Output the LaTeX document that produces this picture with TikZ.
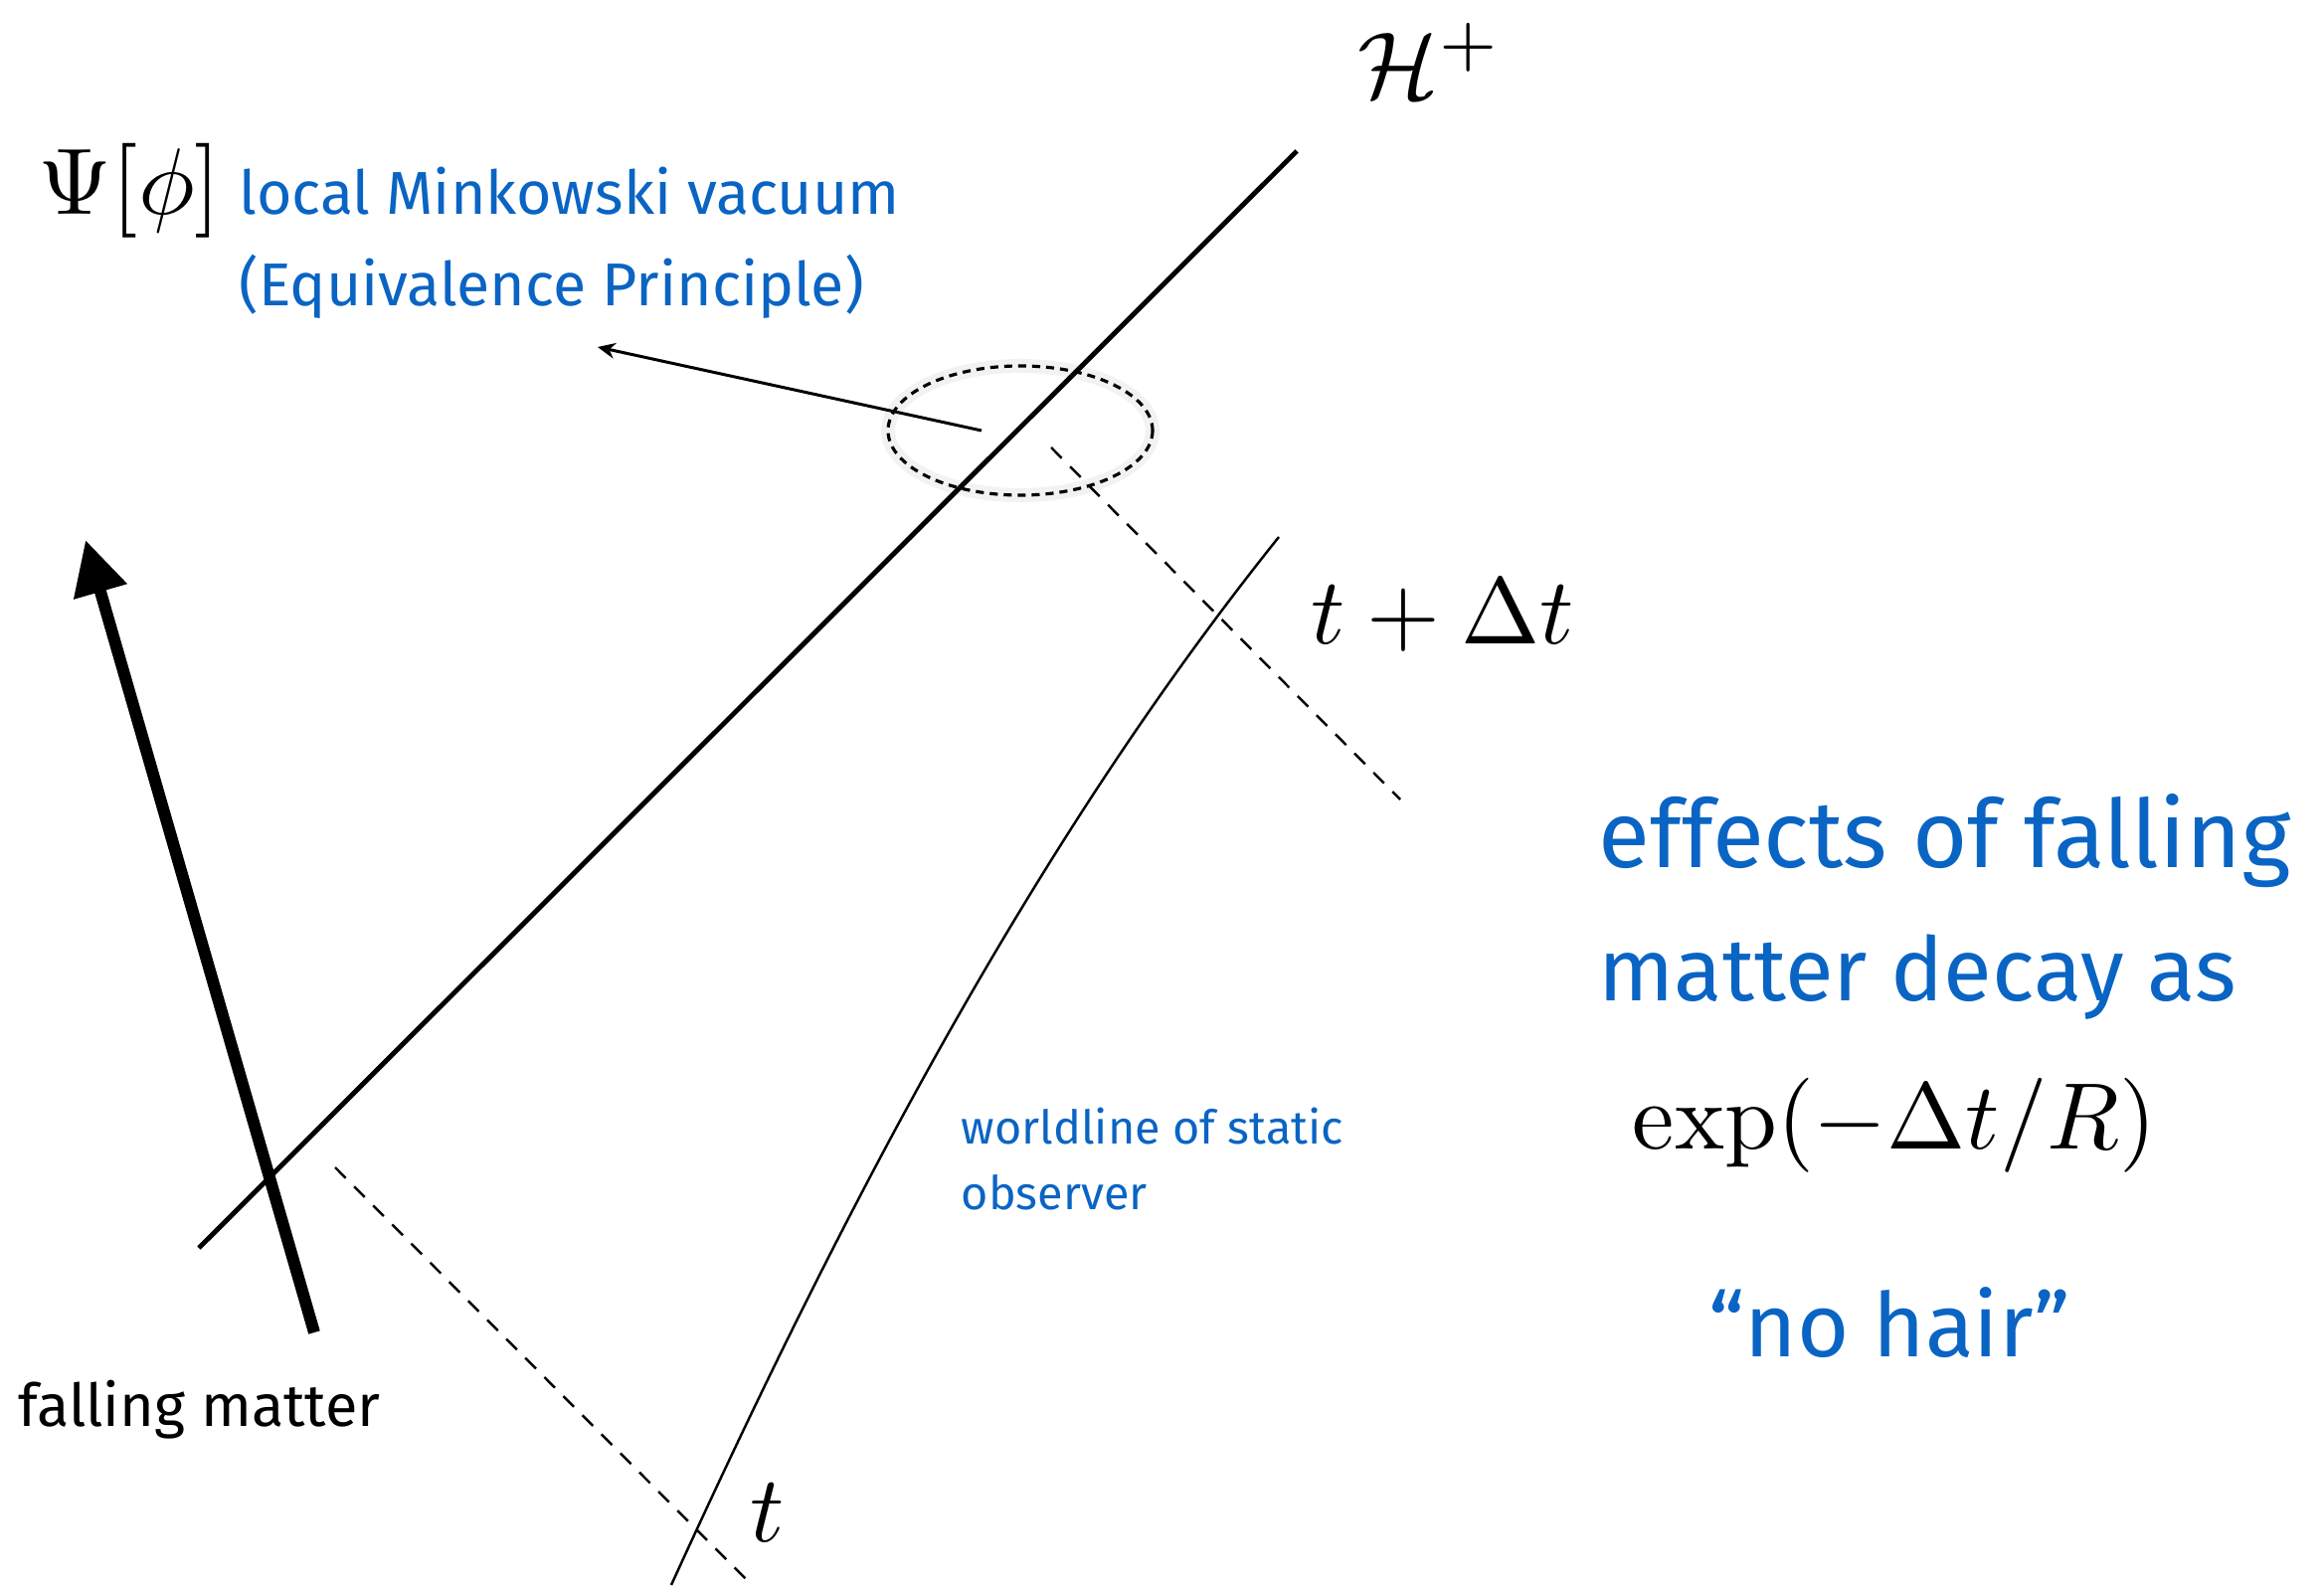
\documentclass[tikz,border=0pt]{standalone}
\usepackage{fontspec}
\newfontfamily\hand{Fira Sans}
\usetikzlibrary{arrows.meta}
\definecolor{hblue}{RGB}{10,100,195}

\begin{document}
\begin{tikzpicture}[
		x=0.01cm, y=-0.01cm,
		m/.style  = {scale=2.7, inner sep=0pt, anchor=base west},
		hw/.style = {text=hblue, inner sep=0pt, anchor=base west, align=left},
		ln/.style = {line width=1.4pt},
		dl/.style = {line width=0.7pt, dash pattern=on 4.3pt off 3.4pt},
		]
	\useasboundingbox (0,0) rectangle (2337,1598);

	%Points
	\coordinate	(hb)	at	(200,1255);
	\coordinate	(ht)	at	(1304,152);
	\coordinate	(fb)	at	(316,1340);
	\coordinate	(ft)	at	(86,543);
	\coordinate	(wb)	at	(675,1594);
	\coordinate	(wt)	at	(1286,540);
	\coordinate	(d1a)	at	(337,1174);
	\coordinate	(d1b)	at	(756,1594);
	\coordinate	(d2a)	at	(1057,450);
	\coordinate	(d2b)	at	(1408,804);
	\coordinate	(ctr)	at	(1026,433);
	\coordinate	(pa)	at	(987,433);
	\coordinate	(pb)	at	(601,349);

	%Nodes
	\node[m]	(hplus)	at	(1364,99)	{$\mathcal{H}^+$};
	\node[m]	(psi)	at	(37,216)	{$\Psi[\phi]$};
	\node[m]	(tdt)	at	(1317,648)	{$t+\Delta t$};
	\node[m]	(tlow)	at	(753,1550)	{$t$};
	\node[m]	(expo)	at	(1640,1155)	{$\exp(-\Delta t/R)$};
	\node[hw, font=\hand\fontsize{17.3}{21}\selectfont]	(vac)	at	(240,216)	{local Minkowski vacuum};
	\node[hw, font=\hand\fontsize{17.3}{21}\selectfont]	(equiv)	at	(240,308)	{(Equivalence Principle)};
	\node[hw, font=\hand\fontsize{13.3}{16}\selectfont]	(wl1)	at	(966,1150)	{worldline of static};
	\node[hw, font=\hand\fontsize{13.3}{16}\selectfont]	(wl2)	at	(966,1216)	{observer};
	\node[hw, text=black, font=\hand\fontsize{16.9}{20}\selectfont]	(fall)	at	(18,1434)	{falling matter};
	\node[hw, font=\hand\fontsize{27}{32}\selectfont]	(eff1)	at	(1607,872)	{effects of falling};
	\node[hw, font=\hand\fontsize{25.3}{30}\selectfont]	(eff2)	at	(1607,1006)	{matter decay as};
	\node[hw, anchor=base, font=\hand\fontsize{25.5}{30}\selectfont]	(hair)	at	(1900,1364)	{“no hair”};

	%Lines
	\draw[black!5, line width=4pt]	(ctr)	ellipse [x radius=133, y radius=65];
	\draw[line width=0.9pt, dash pattern=on 2.3pt off 1.7pt]	(ctr)	ellipse [x radius=133, y radius=65];
	\draw[ln]	(hb)	--	(ht);
	\draw[line width=3.4pt, -{Triangle[length=15.4pt, width=15pt]}]	(fb)	--	(ft);
	\draw[line width=0.7pt]	(wb)	.. controls (842,1228) and (1036,852) ..	(wt);
	\draw[dl]	(d1a)	--	(d1b);
	\draw[dl]	(d2a)	--	(d2b);
	\draw[line width=0.85pt, -{Stealth[length=5pt, width=4.5pt]}]	(pa)	--	(pb);
\end{tikzpicture}
\end{document}
